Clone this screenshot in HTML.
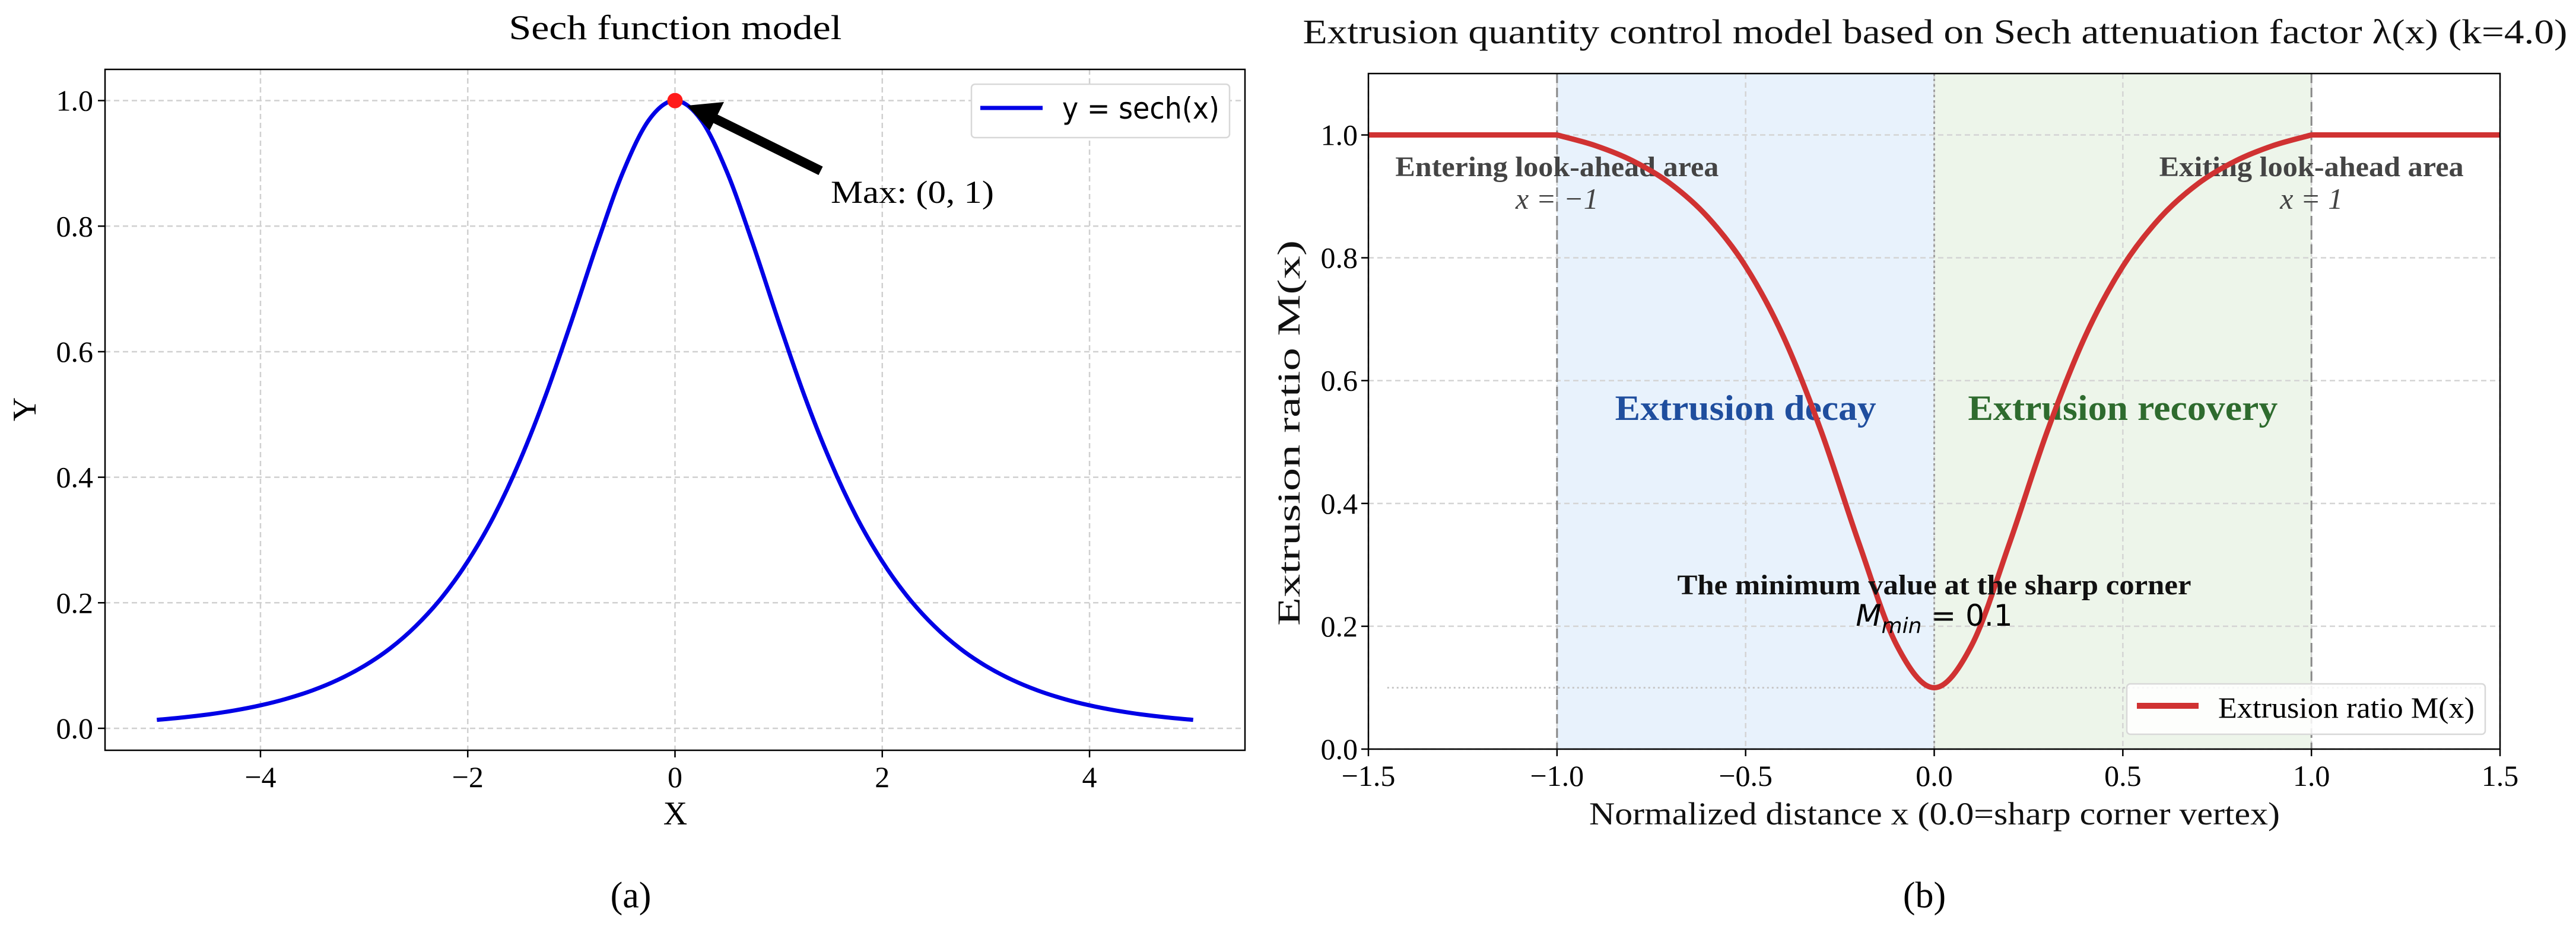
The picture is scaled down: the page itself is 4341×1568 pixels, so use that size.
<!DOCTYPE html>
<html><head><meta charset="utf-8">
<style>
html,body{margin:0;padding:0;background:#fff;}
svg{display:block;font-family:"Liberation Serif",serif;}
</style></head>
<body>
<svg id="fig" width="4341" height="1568" viewBox="0 0 4341 1568" xmlns="http://www.w3.org/2000/svg">
<g id="pa"></g>
<g id="pb"></g>
</svg>
<script>
// ---- Panel (a) data ----
const sechX = [-5,-4.75,-4.5,-4.25,-4,-3.75,-3.5,-3.25,-3,-2.75,-2.5,-2.25,-2,-1.75,-1.5,-1.25,-1,-0.75,-0.5,-0.25,0,0.25,0.5,0.75,1,1.25,1.5,1.75,2,2.25,2.5,2.75,3,3.25,3.5,3.75,4,4.25,4.5,4.75,5];
const sechY = [0.0135,0.0173,0.0222,0.0285,0.0366,0.047,0.0603,0.0774,0.0993,0.1272,0.1631,0.2085,0.2658,0.3372,0.4251,0.5295,0.6481,0.7724,0.8868,0.9695,1,0.9695,0.8868,0.7724,0.6481,0.5295,0.4251,0.3372,0.2658,0.2085,0.1631,0.1272,0.0993,0.0774,0.0603,0.047,0.0366,0.0285,0.0222,0.0173,0.0135];
const aXTicks = [-4,-2,0,2,4];
const aXTickLabels = ["\u22124","\u22122","0","2","4"];
const aYTicks = [0,0.2,0.4,0.6,0.8,1.0];
const aYTickLabels = ["0.0","0.2","0.4","0.6","0.8","1.0"];
const maxPoint = [0,1];
// ---- Panel (b) data ----
const extX = [-1.5,-1,-0.9,-0.8,-0.7,-0.6,-0.5,-0.4,-0.3,-0.2,-0.1,0,0.1,0.2,0.3,0.4,0.5,0.6,0.7,0.8,0.9,1,1.5];
const extY = [1,1,0.983,0.958,0.921,0.866,0.786,0.672,0.518,0.336,0.17,0.1,0.17,0.336,0.518,0.672,0.786,0.866,0.921,0.958,0.983,1,1];
const bXTicks = [-1.5,-1,-0.5,0,0.5,1,1.5];
const bXTickLabels = ["\u22121.5","\u22121.0","\u22120.5","0.0","0.5","1.0","1.5"];
const bYTicks = [0,0.2,0.4,0.6,0.8,1.0];
const bYTickLabels = ["0.0","0.2","0.4","0.6","0.8","1.0"];
const mMin = 0.1;

const NS="http://www.w3.org/2000/svg";
function mk(parent,tag,attrs,text){const e=document.createElementNS(NS,tag);for(const k in attrs)e.setAttribute(k,attrs[k]);if(attrs.textLength)e.setAttribute('lengthAdjust','spacingAndGlyphs');if(text!==undefined)e.textContent=text;parent.appendChild(e);return e;}
function spline(pts,sharpIdx){
  let d="M"+pts[0][0].toFixed(1)+","+pts[0][1].toFixed(1);
  for(let i=0;i<pts.length-1;i++){
    const p0=pts[Math.max(i-1,0)],p1=pts[i],p2=pts[i+1],p3=pts[Math.min(i+2,pts.length-1)];
    let a=p0,b=p3;
    if(sharpIdx&&sharpIdx.includes(i))a=p1;
    if(sharpIdx&&sharpIdx.includes(i+1))b=p2;
    const c1=[p1[0]+(p2[0]-a[0])/6,p1[1]+(p2[1]-a[1])/6];
    const c2=[p2[0]-(b[0]-p1[0])/6,p2[1]-(b[1]-p1[1])/6];
    d+=" C"+c1[0].toFixed(1)+","+c1[1].toFixed(1)+" "+c2[0].toFixed(1)+","+c2[1].toFixed(1)+" "+p2[0].toFixed(1)+","+p2[1].toFixed(1);
  }
  return d;
}

// ===== Panel A =====
(function(){
  const g=document.getElementById('pa');
  const L=177,R=2098,T=117,B=1265;
  const x0=-5.5,x1=5.5,y0=-0.035,y1=1.0497;
  const sx=v=>L+(v-x0)/(x1-x0)*(R-L);
  const sy=v=>B-(v-y0)/(y1-y0)*(B-T);
  const grid=mk(g,'g',{});
  
  
  aXTicks.forEach((t,i)=>{
    mk(grid,'line',{x1:sx(t),x2:sx(t),y1:T,y2:B,stroke:'#d0d0d0','stroke-width':2.5,'stroke-dasharray':'9,6'});
    mk(g,'line',{x1:sx(t),x2:sx(t),y1:B,y2:B+12,stroke:'#000','stroke-width':2.5});
    const tx=mk(g,'text',{x:sx(t),y:B+62,'font-size':50,'text-anchor':'middle'},aXTickLabels[i]);
    
    
  });
  aYTicks.forEach((t,i)=>{
    mk(grid,'line',{x1:L,x2:R,y1:sy(t),y2:sy(t),stroke:'#d0d0d0','stroke-width':2.5,'stroke-dasharray':'9,6'});
    mk(g,'line',{x1:L-12,x2:L,y1:sy(t),y2:sy(t),stroke:'#000','stroke-width':2.5});
    const tx=mk(g,'text',{x:L-20,y:sy(t)+17,'font-size':50,'text-anchor':'end'},aYTickLabels[i]);
    
    
  });
  const pts=sechX.map((x,i)=>[sx(x),sy(sechY[i])]);
  const line=mk(g,'path',{d:spline(pts),fill:'none',stroke:'#0000e6','stroke-width':7,'stroke-linejoin':'round'});
  
  
  const dot=mk(g,'circle',{cx:sx(maxPoint[0]),cy:sy(maxPoint[1]),r:13,fill:'#ff1a1a'});
  
  
  const ar=mk(g,'g',{});
  
  
  mk(ar,'line',{x1:1383,y1:288,x2:1195,y2:195,stroke:'#000','stroke-width':16});
  mk(ar,'polygon',{points:"1158,178 1220,172 1196,220",fill:'#000'});
  const at=mk(g,'text',{x:1400,y:342,'font-size':54,textLength:275},'Max: (0, 1)');
  
  
  mk(g,'rect',{x:L,y:T,width:R-L,height:B-T,fill:'none',stroke:'#000','stroke-width':2.5});
  const lg=mk(g,'g',{});
  
  
  mk(lg,'rect',{x:1637,y:142,width:435,height:90,rx:6,fill:'#fff',stroke:'#d8d8d8','stroke-width':2.5});
  mk(lg,'line',{x1:1652,x2:1757,y1:182,y2:182,stroke:'#0000e6','stroke-width':7});
  mk(lg,'text',{x:1790,y:200,'font-size':50,'font-family':'DejaVu Sans, sans-serif',textLength:265},'y = sech(x)');
  const t=mk(g,'text',{x:1138,y:66,'font-size':58,'text-anchor':'middle',textLength:561},'Sech function model');
  
  
  const xl=mk(g,'text',{x:1138,y:1390,'font-size':56,'text-anchor':'middle'},'X');
  
  
  const yl=mk(g,'text',{x:0,y:0,'font-size':56,'text-anchor':'middle',transform:'translate(60,690) rotate(-90)'},'Y');
  
  
  const cap=mk(g,'text',{x:1063,y:1530,'font-size':62,'text-anchor':'middle'},'(a)');
  
  
})();

// ===== Panel B =====
(function(){
  const g=document.getElementById('pb');
  const L=2306,R=4213,T=124,B=1263;
  const x0=-1.5,x1=1.5,y0=0,y1=1.1;
  const sx=v=>L+(v-x0)/(x1-x0)*(R-L);
  const sy=v=>B-(v-y0)/(y1-y0)*(B-T);
  const sb=mk(g,'rect',{x:sx(-1),y:T,width:sx(0)-sx(-1),height:B-T,fill:'#e8f2fc'});
  
  
  const sg=mk(g,'rect',{x:sx(0),y:T,width:sx(1)-sx(0),height:B-T,fill:'#edf5ea'});
  
  
  bXTicks.forEach((t,i)=>{
    mk(g,'line',{x1:sx(t),x2:sx(t),y1:T,y2:B,stroke:'#d4d4d4','stroke-width':2.5,'stroke-dasharray':'9,6'});
    mk(g,'line',{x1:sx(t),x2:sx(t),y1:B,y2:B+12,stroke:'#000','stroke-width':2.5});
    const tx=mk(g,'text',{x:sx(t),y:B+62,'font-size':50,'text-anchor':'middle'},bXTickLabels[i]);
    
    
  });
  bYTicks.forEach((t,i)=>{
    mk(g,'line',{x1:L,x2:R,y1:sy(t),y2:sy(t),stroke:'#d4d4d4','stroke-width':2.5,'stroke-dasharray':'9,6'});
    mk(g,'line',{x1:L-12,x2:L,y1:sy(t),y2:sy(t),stroke:'#000','stroke-width':2.5});
    const tx=mk(g,'text',{x:L-18,y:sy(t)+17,'font-size':50,'text-anchor':'end'},bYTickLabels[i]);
    
    
  });
  [-1,0,1].forEach(v=>{
    const vl=mk(g,'line',{x1:sx(v),x2:sx(v),y1:T,y2:B,stroke:v===0?'#a0a0a0':'#888','stroke-width':3,'stroke-dasharray':v===0?'4,5':'16,8'});
    
    
  });
  const ml=mk(g,'line',{x1:sx(-1.45),x2:sx(1.45),y1:sy(mMin),y2:sy(mMin),stroke:'#c8c8c8','stroke-width':3,'stroke-dasharray':'3,5'});
  
  
  const txt=(x,y,s,c,w,str,name,extra)=>{const e=mk(g,'text',Object.assign({x:x,y:y,'font-size':s,fill:c,'font-weight':w,'text-anchor':'middle'},extra||{}),str);return e;};
  txt(sx(-1),297,48,'#444','bold','Entering look-ahead area','entering-label',{textLength:545});
  txt(sx(-1),352,50,'#444','normal','x = \u22121','entering-x-label',{'font-style':'italic'});
  txt(sx(1),297,48,'#444','bold','Exiting look-ahead area','exiting-label',{textLength:513});
  txt(sx(1),352,50,'#444','normal','x = 1','exiting-x-label',{'font-style':'italic'});
  txt(sx(-0.5),708,60,'#1f4e9e','bold','Extrusion decay','decay-label',{textLength:440});
  txt(sx(0.5),708,60,'#2e6b2e','bold','Extrusion recovery','recovery-label',{textLength:522});
  const pts=extX.map((x,i)=>[sx(x),sy(extY[i])]);
  const curve=mk(g,'path',{d:spline(pts,[1,21]),fill:'none',stroke:'#d03232','stroke-width':9,'stroke-linejoin':'round'});
  
  
  txt(sx(0),1002,48,'#111','bold','The minimum value at the sharp corner','min-annotation',{textLength:866});
  const mt=mk(g,'text',{x:sx(0),y:1055,'font-size':50,'text-anchor':'middle','font-family':'DejaVu Sans, sans-serif'});
  
  
  mk(mt,'tspan',{'font-style':'italic'},'M');
  mk(mt,'tspan',{'font-style':'italic','font-size':36,dy:12},'min');
  mk(mt,'tspan',{dy:-12},' = 0.1');
  mk(g,'rect',{x:L,y:T,width:R-L,height:B-T,fill:'none',stroke:'#000','stroke-width':2.5});
  const lg=mk(g,'g',{});
  
  
  mk(lg,'rect',{x:3584,y:1153,width:604,height:85,rx:6,fill:'#fff','fill-opacity':0.85,stroke:'#d8d8d8','stroke-width':2.5});
  mk(lg,'line',{x1:3601,x2:3705,y1:1190,y2:1190,stroke:'#d03232','stroke-width':10});
  mk(lg,'text',{x:3738,y:1210,'font-size':50,textLength:432},'Extrusion ratio M(x)');
  txt(3261,73,58,'#111','normal','Extrusion quantity control model based on Sech attenuation factor \u03bb(x) (k=4.0)','title-b',{textLength:2131});
  txt(3260,1390,54,'#111','normal','Normalized distance x (0.0=sharp corner vertex)','x-axis-title-b',{textLength:1164});
  txt(0,0,54,'#111','normal','Extrusion ratio M(x)','y-axis-title-b',{transform:'translate(2190,730) rotate(-90)',textLength:650});
  txt(3243,1530,62,'#000','normal','(b)','caption-b');
})();
</script>
</body></html>
